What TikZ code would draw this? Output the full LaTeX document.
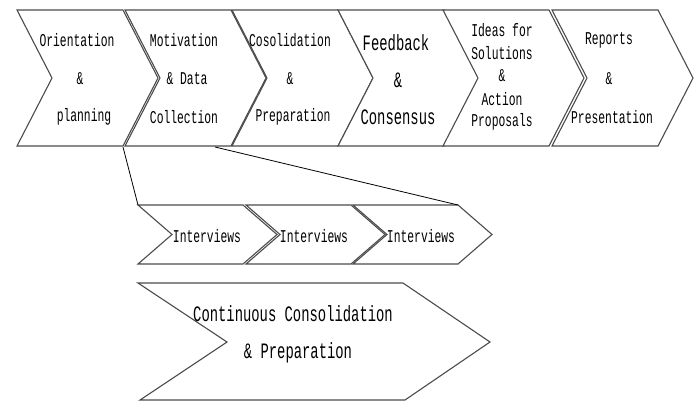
\documentclass[tikz,border=0pt]{standalone}
\usepackage{fontspec}
\setmainfont[FakeStretch=0.63]{Liberation Mono}
\begin{document}
\begin{tikzpicture}[x=1pt,y=-1pt,
  chev/.style={draw=black!70, line width=1.1pt, fill=white, line join=miter},
  link/.style={draw=black, line width=0.8pt},
  lbl/.style={font=\fontsize{18}{18}\selectfont, inner sep=0pt, anchor=center},
  lblbig/.style={font=\fontsize{22}{22}\selectfont, inner sep=0pt, anchor=center}]
\useasboundingbox (0,0) rectangle (695,402);

% chevron: #1 left x, #2 top y, #3 width of straight edge, #4 point depth, #5 height
\newcommand{\chevronshape}[5]{%
  \draw[chev] (#1,#2) -- ({#1+#3},#2) -- ({#1+#3+#4},{#2+#5/2}) -- ({#1+#3},{#2+#5})
    -- (#1,{#2+#5}) -- ({#1+#4},{#2+#5/2}) -- cycle;}

% top process row
\foreach \x in {17,125,232,338,443,552}{\chevronshape{\x}{10}{106}{35}{136}}

% lower interview row and the consolidation arrow
\foreach \x in {138,246,353}{\chevronshape{\x}{205}{105}{34}{59}}
\draw[chev] (138,283) -- (403,283) -- (490,342) -- (405,400) -- (140,400) -- (227,342) -- cycle;

% zoom lines from the second step down to the interviews
\coordinate (zl1) at (123,147);
\coordinate (zl2) at (215,147);
\coordinate (zr1) at (138,205);
\coordinate (zr2) at (458,205);
\draw[link] (zl1) -- (zr1);
\draw[link] (zl2) -- (zr2);

% step labels
\node[lbl] (s1a) at (77,40) {Orientation};
\node[lbl] (s1b) at (80,79) {\&};
\node[lbl] (s1c) at (84,117) {planning};

\node[lbl] (s2a) at (184,40) {Motivation};
\node[lbl] (s2b) at (187,79) {\& Data};
\node[lbl] (s2c) at (184,117) {Collection};

\node[lbl] (s3a) at (290,40) {Cosolidation};
\node[lbl] (s3b) at (290,79) {\&};
\node[lbl] (s3c) at (293,117) {Preparation};

\node[lblbig] (s4a) at (396,43) {Feedback};
\node[lblbig] (s4b) at (398,80) {\&};
\node[lblbig] (s4c) at (398,117) {Consensus};

\node[lbl] (s5a) at (502,30) {Ideas for};
\node[lbl] (s5b) at (502,53) {Solutions};
\node[lbl] (s5c) at (502,76) {\&};
\node[lbl] (s5d) at (502,99) {Action};
\node[lbl] (s5e) at (502,122) {Proposals};

\node[lbl] (s6a) at (609,40) {Reports};
\node[lbl] (s6b) at (609,79) {\&};
\node[lbl] (s6c) at (612,117) {Presentation};

% interview labels
\node[lbl] (i1) at (207,236) {Interviews};
\node[lbl] (i2) at (314,236) {Interviews};
\node[lbl] (i3) at (421,236) {Interviews};

% consolidation label
\node[lblbig] (c1) at (293,314) {Continuous Consolidation};
\node[lblbig] (c2) at (298,353) {\& Preparation};
\end{tikzpicture}
\end{document}
